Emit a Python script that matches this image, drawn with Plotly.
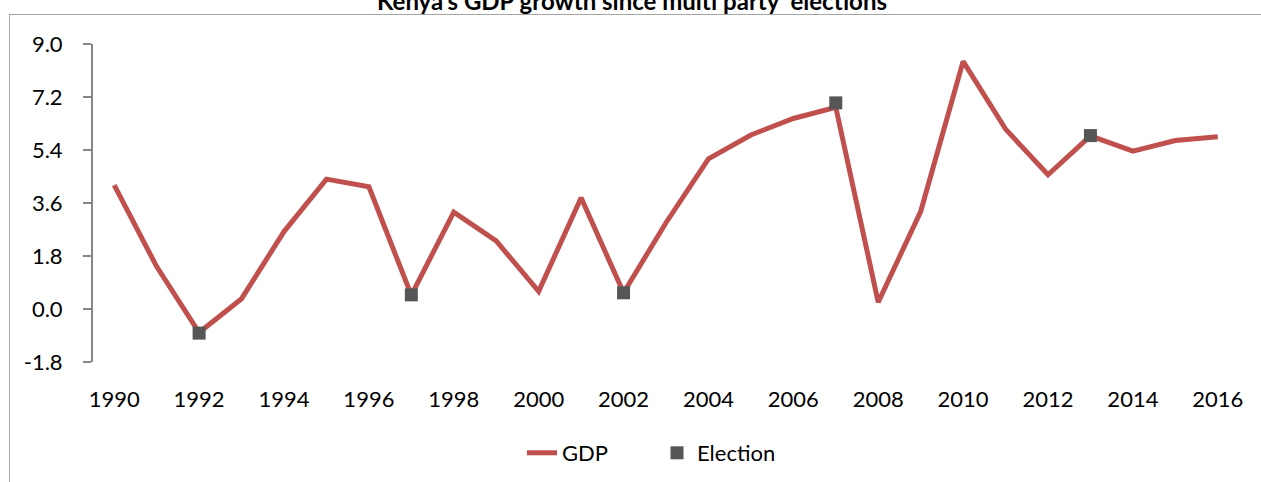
import plotly.graph_objects as go

years = list(range(1990, 2017))
gdp = [4.21, 1.44, -0.80, 0.35, 2.63, 4.41, 4.15, 0.47, 3.29, 2.31, 0.60, 3.78, 0.55,
       2.93, 5.10, 5.91, 6.47, 6.85, 0.23, 3.31, 8.41, 6.11, 4.56, 5.88, 5.36, 5.72, 5.85]
election_years = [1992, 1997, 2002, 2007, 2013]
election_values = [-0.82, 0.48, 0.55, 7.0, 5.89]
y_ticks = [-1.8, 0.0, 1.8, 3.6, 5.4, 7.2, 9.0]
x_label_years = list(range(1990, 2017, 2))
title_text = "Kenya's GDP growth since multi party  elections"

W, H = 1261, 482
L, R, T, B = 93, 22, 44, 120
pw, ph = W - L - R, H - T - B

def px(xp):
    return (xp - L) / pw

def py(yp):
    return (H - B - yp) / ph

font = "Lato, Calibri, Carlito, sans-serif"
axis_col = "#868686"

fig = go.Figure()
fig.add_trace(go.Scatter(x=years, y=gdp, mode="lines", name="GDP",
                         line=dict(color="#C0504D", width=5), xaxis="x2"))
fig.add_trace(go.Scatter(x=election_years, y=election_values, mode="markers", name="Election",
                         marker=dict(symbol="square", size=13, color="#565656"), xaxis="x2"))

zero_frac = (0 - y_ticks[0]) / (y_ticks[-1] - y_ticks[0])
boundaries = [y - 0.5 for y in years] + [years[-1] + 0.5]

fig.update_layout(
    width=W, height=H,
    margin=dict(l=L, r=R, t=T, b=B, autoexpand=False),
    paper_bgcolor="white", plot_bgcolor="white",
    font=dict(family=font, size=22, color="black"),
    showlegend=True,
    legend=dict(orientation="h", x=px(522), xanchor="left", y=py(453), yanchor="middle",
                font=dict(size=22), bgcolor="rgba(0,0,0,0)", entrywidth=90),
    xaxis=dict(range=[years[0] - 0.5, years[-1] + 0.5], anchor="free", position=zero_frac,
               showline=True, linecolor=axis_col, linewidth=2,
               tickmode="array", tickvals=boundaries, ticks="outside", ticklen=8,
               tickcolor=axis_col, tickwidth=2, showticklabels=False, showgrid=False,
               zeroline=False),
    xaxis2=dict(range=[years[0] - 0.5, years[-1] + 0.5], overlaying="x", anchor="y", side="bottom",
                showline=False, tickmode="array", tickvals=x_label_years,
                ticktext=[str(v) for v in x_label_years], ticks="", showgrid=False,
                zeroline=False, ticklabelstandoff=22, tickfont=dict(size=22)),
    yaxis=dict(range=[y_ticks[0], y_ticks[-1]], tickmode="array", tickvals=y_ticks,
               ticktext=[f"{v:.1f}" for v in y_ticks], showline=True, linecolor=axis_col,
               linewidth=2, ticks="outside", ticklen=8, tickcolor=axis_col, tickwidth=2,
               showgrid=False, zeroline=False, ticklabelstandoff=16, tickfont=dict(size=22)),
)

fig.add_annotation(text=f"<b>{title_text}</b>", xref="paper", yref="paper",
                   x=px(632), y=py(0), xanchor="center", yanchor="middle",
                   showarrow=False, font=dict(size=24, color="black"))

fig.add_shape(type="line", xref="paper", yref="paper", x0=px(9), x1=px(1262), y0=py(14.5), y1=py(14.5),
              line=dict(color="#A6A6A6", width=1))
fig.add_shape(type="line", xref="paper", yref="paper", x0=px(9.5), x1=px(9.5), y0=py(14), y1=py(483),
              line=dict(color="#A6A6A6", width=1))

fig.write_html("out.html")
